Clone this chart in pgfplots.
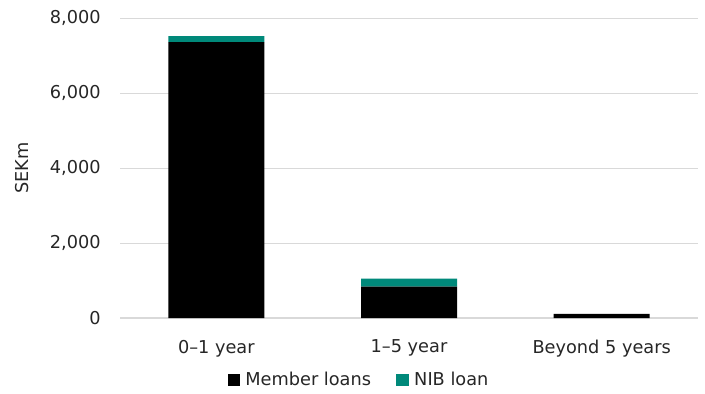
\documentclass[border=0pt]{standalone}
\usepackage{pgfplots}
\pgfplotsset{compat=1.18}
\usepackage{fontspec}
\setmainfont{DejaVu Sans}
\definecolor{nibgreen}{HTML}{00897A}
\definecolor{gridgray}{HTML}{D9D9D9}
\begin{document}
\begin{tikzpicture}
\path (-90pt,-55.5pt) rectangle (438.75pt,238.5pt);
\begin{axis}[
  scale only axis,
  width=433.5pt, height=225pt,
  ybar stacked,
  bar width=72pt,
  xmin=-0.5, xmax=2.5,
  ymin=0, ymax=8000,
  xtick=data,
  xticklabels={0--1 year,1--5 year,Beyond 5 years},
  ytick={0,2000,4000,6000,8000},
  /pgf/number format/1000 sep={,},
  /pgf/number format/assume math mode=true,
  ymajorgrids,
  grid style={gridgray, line width=0.6pt},
  axis y line*=left,
  axis x line*=bottom,
  y axis line style={draw=none},
  x axis line style={gridgray, line width=0.8pt},
  major tick length=0pt,
  tick label style={font=\fontsize{13.3}{16}\selectfont, text=black!85},
  ylabel={SEKm},
  ylabel style={font=\fontsize{13.3}{16}\selectfont, text=black!85, at={(axis description cs:0,0.5)}, anchor=center, yshift=73.5pt},
  yticklabel style={xshift=-11pt},
  xticklabel style={yshift=-13pt},
  legend style={at={(0.414,-0.207)}, anchor=center, draw=none, legend columns=2,
    font=\fontsize{13.3}{16}\selectfont, text=black!85,
    /tikz/every odd column/.append style={column sep=2pt},
    /tikz/every even column/.append style={column sep=17pt}},
  legend image code/.code={\fill[#1] (0cm,-0.16cm) rectangle (0.33cm,0.17cm);},
]
\addplot[fill=black, draw=none] coordinates {(0,7360) (1,835) (2,110)};
\addplot[fill=nibgreen, draw=none] coordinates {(0,160) (1,213) (2,0)};
\legend{Member loans, NIB loan}
\end{axis}
\end{tikzpicture}
\end{document}
